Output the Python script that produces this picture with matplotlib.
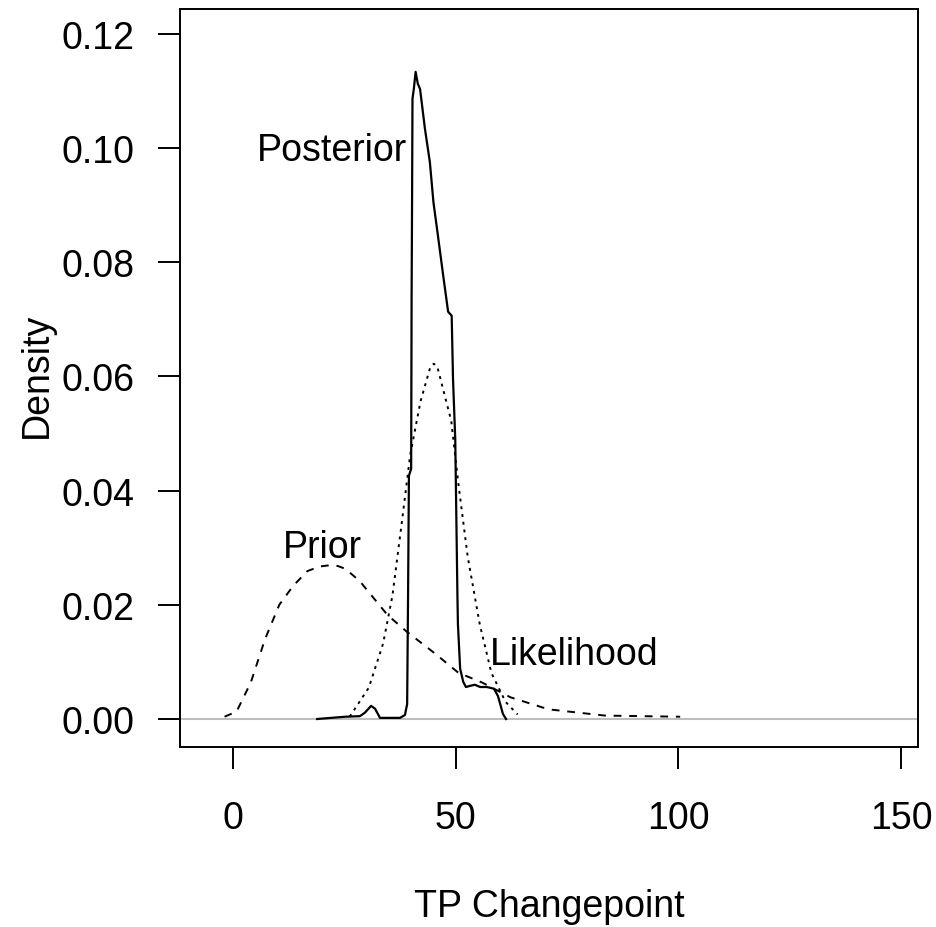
import matplotlib
matplotlib.use("Agg")
import matplotlib.pyplot as plt

plt.rcParams['font.family'] = ['Liberation Sans', 'DejaVu Sans']

# Prior density (dashed)
prior_x = [-1.9, 0.8, 4.0, 7.2, 10.4, 13.5, 16.7, 19.5, 21.5, 23.5, 25.2, 28.4, 34.7,
           39.0, 45.3, 50.6, 55.9, 62.3, 70.8, 83.5, 100.4]
prior_y = [0.0004, 0.0013, 0.0064, 0.0140, 0.0200, 0.0233, 0.0259, 0.0267, 0.0269, 0.0268,
           0.0263, 0.0242, 0.0182, 0.0153, 0.0115, 0.0081, 0.0064, 0.0038, 0.0017, 0.0006, 0.0004]

# Likelihood density (dotted)
lik_x = [26.2, 30.5, 33.7, 35.8, 37.9, 39.8, 42.1, 44.3, 45.1, 45.9, 49.0, 50.6, 52.7,
         55.4, 58.0, 61.2, 63.9]
lik_y = [0.0004, 0.0055, 0.0132, 0.0216, 0.0344, 0.0463, 0.0556, 0.0616, 0.0622, 0.0616,
         0.0522, 0.0412, 0.0284, 0.0166, 0.0081, 0.0030, 0.0008]

# Posterior density (solid)
post_x = [18.9, 25.2, 28.5, 29.6, 31.0, 31.9, 33.0, 37.5, 38.6, 39.1, 39.3, 39.5, 40.0,
          40.1, 40.2, 40.3, 40.6, 41.0, 41.5, 42.0, 43.1, 44.2, 45.0, 46.1, 47.2, 48.3,
          49.1, 49.4, 49.9, 50.4, 50.5, 51.0, 51.7, 52.3, 53.2, 54.3, 55.5, 57.0, 58.6,
          59.5, 60.0, 60.6, 61.3]
post_y = [0.0, 0.0004, 0.0005, 0.0011, 0.0023, 0.0018, 0.0002, 0.0002, 0.0007, 0.0026,
          0.0210, 0.0426, 0.0438, 0.0736, 0.0898, 0.1086, 0.1103, 0.1133, 0.1112, 0.1103,
          0.1033, 0.0975, 0.0905, 0.0841, 0.0776, 0.0713, 0.0706, 0.0595, 0.0490, 0.0210,
          0.0166, 0.0088, 0.0065, 0.0056, 0.0058, 0.0060, 0.0056, 0.0056, 0.0053, 0.0040,
          0.0026, 0.0009, 0.0]

x_ticks = [0, 50, 100, 150]
y_ticks = [0.00, 0.02, 0.04, 0.06, 0.08, 0.10, 0.12]
y_tick_labels = ["0.00", "0.02", "0.04", "0.06", "0.08", "0.10", "0.12"]

labels = ["Posterior", "Prior", "Likelihood"]
label_x = [22.2, 20.0, 76.7]
label_y = [0.0996, 0.0301, 0.0114]

FS = 27
W, H = 936, 928

fig = plt.figure(figsize=(W / 100, H / 100), dpi=100)
ax = fig.add_axes([180/W, (H-748)/H, (918-180)/W, (748-10)/H])

ax.axhline(0, color='#bebebe', lw=1.5, zorder=1)
ax.plot(prior_x, prior_y, color='black', lw=1.4, linestyle=(0, (4, 4)), zorder=2)
ax.plot(lik_x, lik_y, color='black', lw=1.4, linestyle=(0, (1.5, 2.5)), zorder=2)
ax.plot(post_x, post_y, color='black', lw=1.6, linestyle='-', zorder=3)

for t, tx, ty in zip(labels, label_x, label_y):
    ax.text(tx, ty, t, ha='center', va='center', fontsize=FS)

ax.set_xlim(-11.9, 153.8)
ax.set_ylim(-0.0049, 0.1243)

ax.set_xticks(x_ticks)
ax.set_xticklabels([str(v) for v in x_ticks])
ax.set_yticks(y_ticks)
ax.set_yticklabels(y_tick_labels)
ax.tick_params(axis='both', direction='out', length=16, width=1.4, labelsize=FS)
ax.tick_params(axis='x', pad=22)
ax.tick_params(axis='y', pad=17)

for sp in ax.spines.values():
    sp.set_linewidth(1.4)

# axis titles placed as in the reference
fig.text(549/W, 1 - 917/H, "TP Changepoint", fontsize=FS, ha='center', va='baseline')
fig.text(47/W, 1 - 375/H, "Density", fontsize=FS, rotation=90,
         rotation_mode='anchor', ha='center', va='baseline')

fig.savefig("out.png", dpi=100)
